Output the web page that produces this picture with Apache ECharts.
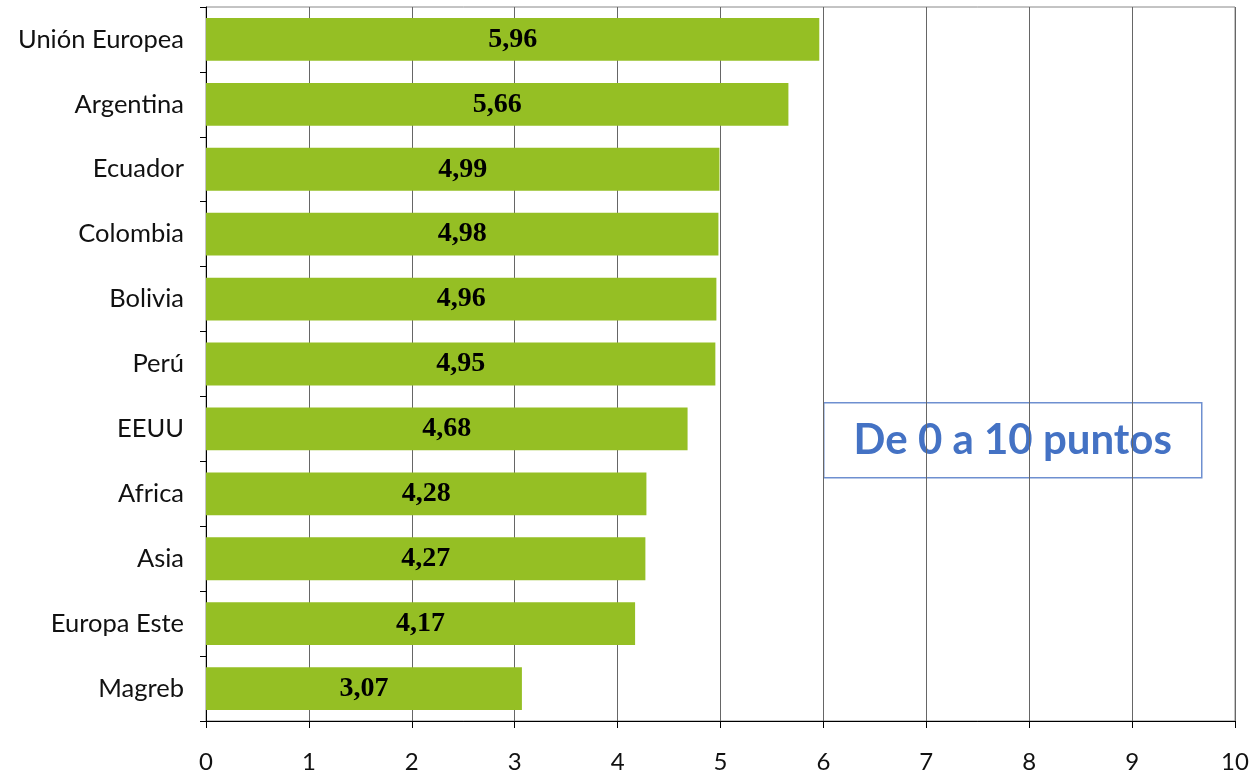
<!DOCTYPE html>
<html><head><meta charset="utf-8">
<script src="https://cdn.jsdelivr.net/npm/echarts@6/dist/echarts.min.js"></script>
<style>html,body{margin:0;padding:0;background:#fff}#c{width:1253px;height:777px}</style>
</head><body><div id="c"></div>
<script>
const categories = ["Unión Europea","Argentina","Ecuador","Colombia","Bolivia","Perú","EEUU","Africa","Asia","Europa Este","Magreb"];
const values = [5.96,5.66,4.99,4.98,4.96,4.95,4.68,4.28,4.27,4.17,3.07];
const xTicks = [0,1,2,3,4,5,6,7,8,9,10];
const boxText = "De 0 a 10 puntos";

const chart = echarts.init(document.getElementById('c'), null, {renderer:'canvas'});
chart.setOption({
  animation:false,
  grid:{left:206,right:18,top:7,bottom:56,containLabel:false,show:true,borderColor:'#888',borderWidth:1},
  xAxis:{type:'value',min:0,max:10,interval:1,
    axisLine:{show:true,lineStyle:{color:'#000',width:1}},
    axisTick:{show:true,length:7,lineStyle:{color:'#000'}},
    splitLine:{show:true,lineStyle:{color:'#666',width:1}},
    axisLabel:{color:'#111',fontFamily:'Lato',fontSize:24,margin:29,formatter:v=>String(v)}},
  yAxis:{type:'category',data:categories,inverse:true,
    axisLine:{show:true,lineStyle:{color:'#000'}},
    axisTick:{show:true,length:6,lineStyle:{color:'#000'}},
    axisLabel:{color:'#111',fontFamily:'Lato',fontSize:25.5,margin:22,padding:[4,0,0,0]}},
  series:[{type:'bar',data:values,barWidth:'66%',itemStyle:{color:'#95BF24'},
    label:{show:true,position:'inside',color:'#000',fontFamily:'Liberation Serif',fontWeight:'bold',fontSize:28,
      formatter:p=>p.value.toFixed(2).replace('.',',')}}],
  graphic:[{type:'group',left:823,top:402,children:[
    {type:'rect',shape:{x:0,y:0,width:378,height:75},style:{fill:'#fff',stroke:'#6E8FD0',lineWidth:1.5}},
    {type:'text',x:189,y:38,style:{text:boxText,fill:'#4472C4',font:'bold 42px Lato',textAlign:'center',textVerticalAlign:'middle'}}
  ]}]
});
</script></body></html>
